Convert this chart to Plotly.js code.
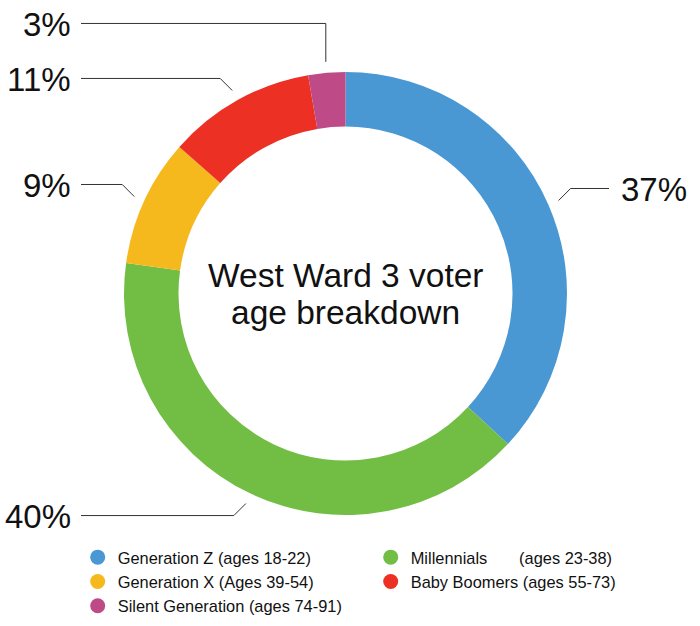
<!DOCTYPE html>
<html><head><meta charset="utf-8">
<script src="https://cdn.plot.ly/plotly-3.0.1.min.js"></script>
<style>html,body{margin:0;padding:0;background:#fff;} #chart{width:700px;height:626px;}</style>
</head><body><div id="chart"></div>
<script>
// ---- data ----
const categories = ["Generation Z", "Millennials", "Generation X", "Baby Boomers", "Silent Generation"];
const legendLabels = [
  "Generation Z (ages 18-22)",
  "Millennials\u00A0\u00A0\u00A0\u00A0\u00A0\u00A0\u00A0(ages 23-38)",
  "Generation X (Ages 39-54)",
  "Baby Boomers (ages 55-73)",
  "Silent Generation (ages 74-91)"
];
const shares = [36.9, 40.3, 9.3, 10.8, 2.7];
const colors = ["#4A98D3", "#72BE44", "#F5B91E", "#EC3024", "#BE4B87"];
const centerTitle = ["West Ward 3 voter", "age breakdown"];

// ---- layout geometry ----
const W = 700, H = 626;
const CX = 345.5, CY = 293.5, R = 221.5, HOLE = 0.754;
const px = x => x / W, py = y => 1 - y / H;
const FONT = "Liberation Sans, Arial, Helvetica, sans-serif";

const total = shares.reduce((a, b) => a + b, 0);
let cum = 0;
const labs = shares.map((v, i) => {
  const mid = (cum + v / 2) / total * 2 * Math.PI; cum += v;
  const sx = CX + (R + 11) * Math.sin(mid), sy = CY - (R + 11) * Math.cos(mid);
  const right = Math.sin(mid) > 0, upper = Math.cos(mid) > 0;
  return {i, v, sx, sy, right, ly: sy + (upper ? -12 : 12), vertical: false};
});
// simple collision avoidance on each side
[true, false].forEach(side => {
  const s = labs.filter(l => l.right === side).sort((a, b) => b.ly - a.ly);
  for (let k = 1; k < s.length; k++) {
    if (s[k].ly > s[k - 1].ly - 50) { s[k].ly = s[k - 1].ly - 55; s[k].vertical = true; }
  }
});

const shapes = [], annotations = [];
labs.forEach(l => {
  const ex = l.vertical ? l.sx : l.sx + (l.right ? 1 : -1) * Math.abs(l.ly - l.sy);
  const endx = l.right ? 609 : 81;
  shapes.push({
    type: "path", xref: "paper", yref: "paper",
    path: `M ${px(l.sx)},${py(l.sy)} L ${px(ex)},${py(l.ly)} L ${px(endx)},${py(l.ly)}`,
    line: {color: "#333333", width: 1}
  });
  annotations.push({
    xref: "paper", yref: "paper", showarrow: false,
    x: px(l.right ? 619 : 73), y: py(l.ly + 1),
    xanchor: l.right ? "left" : "right", yanchor: "middle",
    text: Math.round(l.v) + "%",
    font: {family: FONT, size: 33, color: "#111111"}
  });
});
const centerY = [276, 312];
centerTitle.forEach((t, k) => annotations.push({
  xref: "paper", yref: "paper", showarrow: false,
  x: px(CX), y: py(centerY[k]), xanchor: "center", yanchor: "middle",
  text: t, font: {family: FONT, size: 33.5, color: "#111111"}
}));

const traces = [{
  type: "pie",
  labels: categories, values: shares,
  marker: {colors: colors, line: {width: 0}},
  hole: HOLE, sort: false, direction: "clockwise", rotation: 0,
  textinfo: "none", hoverinfo: "label+percent", showlegend: false,
  domain: {x: [px(CX - R), px(CX + R)], y: [py(CY + R), py(CY - R)]}
}];
legendLabels.forEach((name, i) => traces.push({
  type: "scatter", mode: "markers", x: [null], y: [null],
  name: name, marker: {color: colors[i], size: 15}, showlegend: true, hoverinfo: "skip"
}));

const layout = {
  width: W, height: H,
  margin: {l: 0, r: 0, t: 0, b: 0},
  paper_bgcolor: "#ffffff", plot_bgcolor: "#ffffff",
  xaxis: {visible: false}, yaxis: {visible: false},
  showlegend: true,
  legend: {
    orientation: "h", x: px(77.7), xanchor: "left", y: py(540), yanchor: "top",
    entrywidth: 248, entrywidthmode: "pixels",
    font: {family: FONT, size: 16.4, color: "#111111"},
    bgcolor: "rgba(0,0,0,0)", itemclick: false, itemdoubleclick: false
  },
  shapes: shapes, annotations: annotations
};
Plotly.newPlot("chart", traces, layout, {displayModeBar: false, staticPlot: true});
</script>
</body></html>
